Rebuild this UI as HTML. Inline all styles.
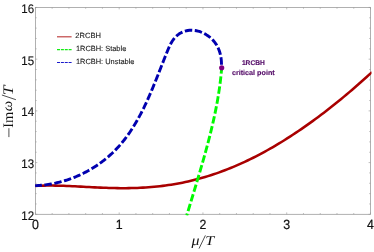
<!DOCTYPE html>
<html><head><meta charset="utf-8"><style>
html,body{margin:0;padding:0;background:#fff;}
body{width:374px;height:252px;overflow:hidden;}
svg{display:block;will-change:transform;opacity:0.999;}
text{font-family:"Liberation Sans",sans-serif;text-rendering:geometricPrecision;}
.ser{font-family:"Liberation Serif",serif;}
</style></head><body>
<svg width="374" height="252" viewBox="0 0 374 252">
<rect width="374" height="252" fill="#fff"/>
<g fill="none" stroke="#969696" stroke-width="0.75">
<rect x="35.4" y="7.45" width="335.1" height="206.85000000000002"/>
<path d="M35.40 214.30 v-1.90 M35.40 7.45 v1.90 M52.16 214.30 v-1.30 M52.16 7.45 v1.30 M68.91 214.30 v-1.30 M68.91 7.45 v1.30 M85.66 214.30 v-1.30 M85.66 7.45 v1.30 M102.42 214.30 v-1.30 M102.42 7.45 v1.30 M119.18 214.30 v-1.90 M119.18 7.45 v1.90 M135.93 214.30 v-1.30 M135.93 7.45 v1.30 M152.69 214.30 v-1.30 M152.69 7.45 v1.30 M169.44 214.30 v-1.30 M169.44 7.45 v1.30 M186.20 214.30 v-1.30 M186.20 7.45 v1.30 M202.95 214.30 v-1.90 M202.95 7.45 v1.90 M219.71 214.30 v-1.30 M219.71 7.45 v1.30 M236.46 214.30 v-1.30 M236.46 7.45 v1.30 M253.22 214.30 v-1.30 M253.22 7.45 v1.30 M269.97 214.30 v-1.30 M269.97 7.45 v1.30 M286.72 214.30 v-1.90 M286.72 7.45 v1.90 M303.48 214.30 v-1.30 M303.48 7.45 v1.30 M320.24 214.30 v-1.30 M320.24 7.45 v1.30 M336.99 214.30 v-1.30 M336.99 7.45 v1.30 M353.75 214.30 v-1.30 M353.75 7.45 v1.30 M370.50 214.30 v-1.90 M370.50 7.45 v1.90 M35.40 214.30 h1.90 M370.50 214.30 h-1.90 M35.40 203.96 h1.30 M370.50 203.96 h-1.30 M35.40 193.62 h1.30 M370.50 193.62 h-1.30 M35.40 183.27 h1.30 M370.50 183.27 h-1.30 M35.40 172.93 h1.30 M370.50 172.93 h-1.30 M35.40 162.59 h1.90 M370.50 162.59 h-1.90 M35.40 152.25 h1.30 M370.50 152.25 h-1.30 M35.40 141.90 h1.30 M370.50 141.90 h-1.30 M35.40 131.56 h1.30 M370.50 131.56 h-1.30 M35.40 121.22 h1.30 M370.50 121.22 h-1.30 M35.40 110.88 h1.90 M370.50 110.88 h-1.90 M35.40 100.53 h1.30 M370.50 100.53 h-1.30 M35.40 90.19 h1.30 M370.50 90.19 h-1.30 M35.40 79.85 h1.30 M370.50 79.85 h-1.30 M35.40 69.50 h1.30 M370.50 69.50 h-1.30 M35.40 59.16 h1.90 M370.50 59.16 h-1.90 M35.40 48.82 h1.30 M370.50 48.82 h-1.30 M35.40 38.48 h1.30 M370.50 38.48 h-1.30 M35.40 28.13 h1.30 M370.50 28.13 h-1.30 M35.40 17.79 h1.30 M370.50 17.79 h-1.30 M35.40 7.45 h1.90 M370.50 7.45 h-1.90" stroke-width="0.6"/>
</g>
<clipPath id="c"><rect x="34.4" y="6.45" width="337.1" height="209.05"/></clipPath>
<g fill="none" stroke-linecap="butt" stroke-linejoin="round" clip-path="url(#c)">
<path d="M35.40 185.91 L38.23 185.78 L41.06 185.68 L43.89 185.61 L46.71 185.57 L49.54 185.56 L52.37 185.58 L55.20 185.62 L58.03 185.68 L60.86 185.76 L63.69 185.85 L66.51 185.96 L69.34 186.08 L72.17 186.21 L75.00 186.35 L77.83 186.49 L80.66 186.64 L83.49 186.78 L86.31 186.93 L89.14 187.08 L91.97 187.22 L94.80 187.36 L97.63 187.49 L100.46 187.62 L103.29 187.73 L106.11 187.84 L108.94 187.93 L111.77 188.01 L114.60 188.07 L117.43 188.12 L120.26 188.15 L123.09 188.16 L125.91 188.15 L128.74 188.12 L131.57 188.07 L134.40 188.00 L137.23 187.91 L140.06 187.79 L142.89 187.64 L145.71 187.47 L148.54 187.28 L151.37 187.05 L154.20 186.80 L157.03 186.52 L159.86 186.21 L162.69 185.87 L165.51 185.51 L168.34 185.11 L171.17 184.68 L174.00 184.22 L176.83 183.72 L179.66 183.20 L182.49 182.64 L185.31 182.05 L188.14 181.43 L190.97 180.77 L193.80 180.08 L196.63 179.36 L199.46 178.60 L202.29 177.81 L205.11 176.98 L207.94 176.12 L210.77 175.23 L213.60 174.30 L216.43 173.34 L219.26 172.34 L222.09 171.31 L224.91 170.25 L227.74 169.15 L230.57 168.02 L233.40 166.85 L236.23 165.65 L239.06 164.41 L241.89 163.15 L244.71 161.85 L247.54 160.51 L250.37 159.14 L253.20 157.74 L256.03 156.31 L258.86 154.84 L261.69 153.34 L264.51 151.81 L267.34 150.25 L270.17 148.66 L273.00 147.03 L275.83 145.38 L278.66 143.69 L281.49 141.97 L284.31 140.22 L287.14 138.44 L289.97 136.63 L292.80 134.79 L295.63 132.92 L298.46 131.03 L301.29 129.10 L304.11 127.15 L306.94 125.16 L309.77 123.15 L312.60 121.11 L315.43 119.04 L318.26 116.95 L321.09 114.82 L323.91 112.67 L326.74 110.49 L329.57 108.29 L332.40 106.06 L335.23 103.80 L338.06 101.52 L340.89 99.21 L343.71 96.87 L346.54 94.51 L349.37 92.12 L352.20 89.70 L355.03 87.26 L357.86 84.79 L360.69 82.30 L363.51 79.78 L366.34 77.24 L369.17 74.66 L372.00 72.07" stroke="#a90000" stroke-width="2.55"/>
<path d="M221.68 67.85 L221.48 70.35 L221.25 72.86 L221.01 75.36 L220.74 77.86 L220.46 80.36 L220.15 82.87 L219.83 85.37 L219.49 87.87 L219.12 90.37 L218.74 92.88 L218.35 95.38 L217.93 97.88 L217.50 100.38 L217.05 102.89 L216.59 105.39 L216.11 107.89 L215.61 110.39 L215.10 112.90 L214.58 115.40 L214.04 117.90 L213.49 120.40 L212.92 122.91 L212.34 125.41 L211.75 127.91 L211.15 130.41 L210.54 132.92 L209.92 135.42 L209.28 137.92 L208.64 140.42 L207.99 142.93 L207.32 145.43 L206.65 147.93 L205.97 150.43 L205.28 152.94 L204.59 155.44 L203.89 157.94 L203.18 160.44 L202.46 162.95 L201.74 165.45 L201.01 167.95 L200.28 170.45 L199.55 172.96 L198.81 175.46 L198.06 177.96 L197.32 180.46 L196.57 182.97 L195.81 185.47 L195.06 187.97 L194.30 190.47 L193.55 192.98 L192.79 195.48 L192.03 197.98 L191.27 200.48 L190.52 202.99 L189.76 205.49 L189.01 207.99 L188.25 210.49 L187.50 213.00 L186.75 215.50" stroke="#00fa00" stroke-width="2.9" stroke-dasharray="7.5 2.61" stroke-dashoffset="1.6"/>
<path d="M35.16 185.64 L36.63 185.58 L38.09 185.50 L39.56 185.41 L41.02 185.29 L42.48 185.15 L43.94 185.00 L45.40 184.82 L46.85 184.63 L48.30 184.42 L49.75 184.19 L51.19 183.95 L52.63 183.68 L54.07 183.40 L55.50 183.10 L56.93 182.78 L58.35 182.44 L59.77 182.08 L61.18 181.71 L62.59 181.32 L64.00 180.92 L65.39 180.49 L66.79 180.05 L68.17 179.59 L69.56 179.12 L70.93 178.63 L72.30 178.12 L73.66 177.59 L75.02 177.05 L76.37 176.49 L77.71 175.92 L79.04 175.33 L80.37 174.72 L81.69 174.10 L83.00 173.46 L84.30 172.81 L85.60 172.14 L86.89 171.45 L88.17 170.75 L89.44 170.04 L90.70 169.31 L91.95 168.56 L93.19 167.80 L94.42 167.03 L95.65 166.24 L96.86 165.43 L98.06 164.62 L99.26 163.78 L100.44 162.93 L101.61 162.07 L102.77 161.20 L103.92 160.31 L105.06 159.40 L106.19 158.49 L107.31 157.56 L108.41 156.61 L109.50 155.65 L110.58 154.68 L111.65 153.70 L112.71 152.70 L113.75 151.69 L114.78 150.67 L115.80 149.63 L116.80 148.58 L117.79 147.52 L118.77 146.45 L119.73 145.36 L120.68 144.26 L121.62 143.16 L122.54 142.04 L123.46 140.90 L124.36 139.76 L125.24 138.61 L126.12 137.45 L126.99 136.28 L127.84 135.10 L128.68 133.90 L129.51 132.71 L130.33 131.50 L131.14 130.28 L131.94 129.06 L132.72 127.82 L133.50 126.58 L134.27 125.33 L135.03 124.08 L135.77 122.82 L136.51 121.55 L137.24 120.28 L137.96 119.00 L138.67 117.71 L139.38 116.42 L140.07 115.13 L140.76 113.82 L141.43 112.52 L142.10 111.21 L142.76 109.90 L143.42 108.58 L144.06 107.26 L144.70 105.94 L145.34 104.61 L145.96 103.28 L146.58 101.95 L147.19 100.62 L147.80 99.28 L148.40 97.95 L148.99 96.61 L149.58 95.27 L150.16 93.93 L150.74 92.59 L151.31 91.25 L151.88 89.92 L152.44 88.58 L153.00 87.24 L153.55 85.90 L154.10 84.56 L154.65 83.23 L155.19 81.89 L155.73 80.55 L156.27 79.21 L156.81 77.87 L157.34 76.53 L157.88 75.19 L158.41 73.84 L158.94 72.50 L159.47 71.15 L160.00 69.80 L160.53 68.45 L161.06 67.09 L161.59 65.74 L162.13 64.38 L162.66 63.01 L163.20 61.65 L163.74 60.28 L164.28 58.90 L164.83 57.52 L165.38 56.14 L165.93 54.76 L166.49 53.37 L167.05 51.97 L167.62 50.58 L168.20 49.19 L168.79 47.81 L169.41 46.44 L170.06 45.10 L170.74 43.79 L171.45 42.51 L172.20 41.26 L173.00 40.06 L173.84 38.91 L174.74 37.82 L175.70 36.78 L176.71 35.82 L177.79 34.92 L178.92 34.09 L180.09 33.33 L181.31 32.65 L182.57 32.05 L183.87 31.52 L185.20 31.08 L186.55 30.73 L187.93 30.46 L189.33 30.29 L190.74 30.20 L192.16 30.21 L193.59 30.30 L195.03 30.48 L196.45 30.73 L197.88 31.07 L199.29 31.48 L200.69 31.97 L202.08 32.53 L203.44 33.15 L204.77 33.84 L206.08 34.60 L207.35 35.42 L208.59 36.29 L209.78 37.22 L210.92 38.20 L212.02 39.23 L213.06 40.31 L214.04 41.44 L214.97 42.60 L215.82 43.81 L216.61 45.05 L217.33 46.33 L217.99 47.64 L218.59 48.98 L219.13 50.34 L219.61 51.72 L220.03 53.13 L220.39 54.55 L220.70 55.98 L220.96 57.43 L221.16 58.88 L221.32 60.34 L221.42 61.80 L221.48 63.26 L221.49 64.71 L221.46 66.16 L221.39 67.60" stroke="#0000b0" stroke-width="2.9" stroke-dasharray="7.47 2.56" stroke-dashoffset="0.75"/>
</g>
<circle cx="221.7" cy="67.8" r="2.6" fill="#800080"/>

<g font-size="12.5" fill="#111"><text x="35.40" y="228.55" font-size="13.3" stroke="#111" stroke-width="0.2" text-anchor="middle" textLength="6.9" lengthAdjust="spacingAndGlyphs">0</text><text x="119.18" y="228.55" font-size="13.3" stroke="#111" stroke-width="0.2" text-anchor="middle" textLength="6.9" lengthAdjust="spacingAndGlyphs">1</text><text x="202.95" y="228.55" font-size="13.3" stroke="#111" stroke-width="0.2" text-anchor="middle" textLength="6.9" lengthAdjust="spacingAndGlyphs">2</text><text x="286.73" y="228.55" font-size="13.3" stroke="#111" stroke-width="0.2" text-anchor="middle" textLength="6.9" lengthAdjust="spacingAndGlyphs">3</text><text x="370.50" y="228.55" font-size="13.3" stroke="#111" stroke-width="0.2" text-anchor="middle" textLength="6.9" lengthAdjust="spacingAndGlyphs">4</text><text x="34.1" y="219.70" text-anchor="end" textLength="12.8" lengthAdjust="spacingAndGlyphs" stroke="#111" stroke-width="0.15">12</text><text x="34.1" y="167.99" text-anchor="end" textLength="12.8" lengthAdjust="spacingAndGlyphs" stroke="#111" stroke-width="0.15">13</text><text x="34.1" y="116.28" text-anchor="end" textLength="12.8" lengthAdjust="spacingAndGlyphs" stroke="#111" stroke-width="0.15">14</text><text x="34.1" y="64.56" text-anchor="end" textLength="12.8" lengthAdjust="spacingAndGlyphs" stroke="#111" stroke-width="0.15">15</text><text x="34.1" y="12.85" text-anchor="end" textLength="12.8" lengthAdjust="spacingAndGlyphs" stroke="#111" stroke-width="0.15">16</text></g>
<!-- legend -->
<g fill="none" stroke-width="1.15">
<path d="M57 36.8H71.6" stroke="#bd3c3c"/>
<path d="M57 49.65H71.6" stroke="#14ec14" stroke-dasharray="3 0.88"/>
<path d="M57 62.45H71.6" stroke="#1a1acc" stroke-dasharray="3 0.88"/>
</g>
<g font-size="7.5" fill="#1a1a1a" stroke="#1a1a1a" stroke-width="0.1">
<text x="75.3" y="38.35" textLength="25.6" lengthAdjust="spacingAndGlyphs">2RCBH</text>
<text x="75.9" y="50.9" textLength="50.4" lengthAdjust="spacingAndGlyphs">1RCBH: Stable</text>
<text x="75.9" y="64.2" textLength="58.6" lengthAdjust="spacingAndGlyphs">1RCBH: Unstable</text>
</g>
<g font-weight="bold" fill="#540c68" stroke="#540c68" stroke-width="0.15" text-anchor="middle">
<text x="253.4" y="64.8" font-size="6.8" textLength="23.0" lengthAdjust="spacingAndGlyphs">1RCBH</text>
<text x="253.3" y="74.9" font-size="7.2" textLength="42.8" lengthAdjust="spacingAndGlyphs">critical point</text>
</g>
<!-- x label -->
<g class="ser" fill="#111" font-style="italic">
<text class="ser" transform="translate(191.5 245.2) scale(1.14 1)" font-size="14">μ</text>
<path d="M199.0 248.6L205.4 235.4" stroke="#222" stroke-width="0.8" fill="none"/>
<text class="ser" transform="translate(205.3 245.1) scale(1.15 0.95)" font-size="14">T</text>
</g>
<!-- y label -->
<g class="ser" fill="#111">
<path d="M8.9 137.1V128.2" stroke="#333" stroke-width="0.85" fill="none"/>
<text class="ser" transform="translate(12.7 127.7) rotate(-90)" font-size="14.5">I</text>
<text class="ser" transform="translate(12.7 123.1) rotate(-90)" font-size="14.5">m</text>
<text class="ser" transform="translate(12.4 111.2) rotate(-90) scale(1.05 1.0)" font-size="14" font-style="italic">ω</text>
<path d="M15.9 99.7L1.9 95.0" stroke="#222" stroke-width="0.8" fill="none"/>
<text class="ser" transform="translate(12.7 95.3) rotate(-90) scale(1.24 1.04)" font-size="14" font-style="italic">T</text>
</g>
</svg>
</body></html>
